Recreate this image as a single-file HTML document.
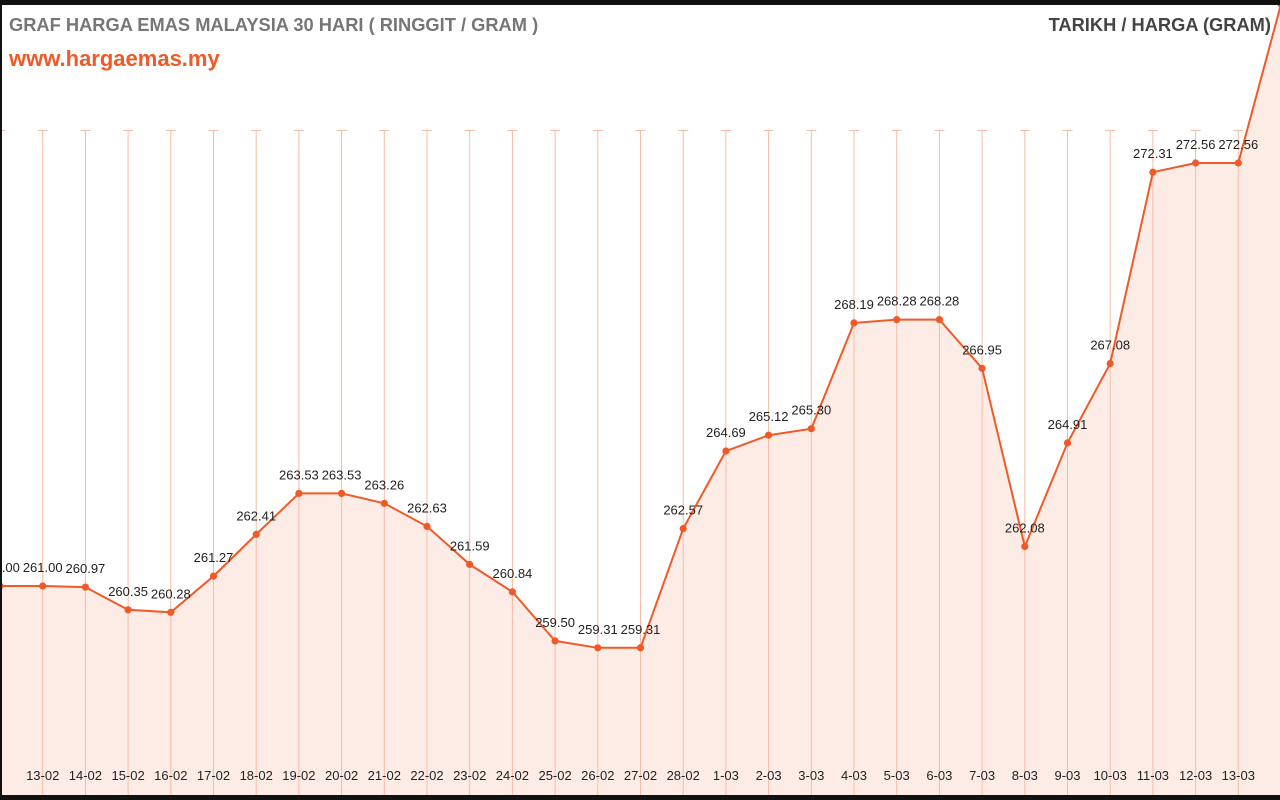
<!DOCTYPE html>
<html><head><meta charset="utf-8"><style>
html,body{margin:0;padding:0;background:#fff;width:1280px;height:800px;overflow:hidden}
svg{display:block;font-family:"Liberation Sans",Arial,sans-serif}
</style></head><body>
<svg id="c" width="1280" height="800" viewBox="0 0 1280 800" xmlns="http://www.w3.org/2000/svg">
<rect x="0" y="0" width="1280" height="800" fill="#fff"/>
<text x="9" y="31" font-size="18.3" font-weight="bold" fill="#767676">GRAF HARGA EMAS MALAYSIA 30 HARI ( RINGGIT / GRAM )</text>
<text x="9" y="66" font-size="22" font-weight="bold" fill="#f05a28">www.hargaemas.my</text>
<text x="1271" y="31" font-size="18.3" font-weight="bold" fill="#444" text-anchor="end">TARIKH / HARGA (GRAM)</text>
<g id="g"></g>
<rect x="0" y="0" width="1280" height="5" fill="#111"/>
<rect x="0" y="0" width="2" height="800" fill="#111"/>
<rect x="0" y="795" width="1280" height="5" fill="#111"/>
</svg>
<script>
var v=[261.00,261.00,260.97,260.35,260.28,261.27,262.41,263.53,263.53,263.26,262.63,261.59,260.84,259.50,259.31,259.31,262.57,264.69,265.12,265.30,268.19,268.28,268.28,266.95,262.08,264.91,267.08,272.31,272.56,272.56,276.9];
var d=["12-02","13-02","14-02","15-02","16-02","17-02","18-02","19-02","20-02","21-02","22-02","23-02","24-02","25-02","26-02","27-02","28-02","1-03","2-03","3-03","4-03","5-03","6-03","7-03","8-03","9-03","10-03","11-03","12-03","13-03",""];
var s="",step=42.7;
function X(i){return i*step}
function Y(val){return 586-(val-261)*36.59}
var pts=v.map(function(val,i){return X(i).toFixed(1)+","+Y(val).toFixed(1)});
s+='<polygon points="'+pts.join(" ")+' 1281,795 0,795" fill="#fdece6"/>';
for(var i=1;i<30;i++){var x=X(i).toFixed(1);
s+='<line x1="'+x+'" y1="130" x2="'+x+'" y2="795" stroke="#f5bca8" stroke-width="1"/>';
s+='<line x1="'+(X(i)-5).toFixed(1)+'" y1="130.5" x2="'+(X(i)+5).toFixed(1)+'" y2="130.5" stroke="#f5bca8"/>';
s+='<text x="'+x+'" y="780" font-size="13" fill="#222" text-anchor="middle">'+d[i]+'</text>';}
s+='<line x1="0" y1="130.5" x2="5" y2="130.5" stroke="#f5bca8"/>';
s+='<polyline points="'+pts.join(" ")+'" fill="none" stroke="#f05a28" stroke-width="2"/>';
for(var i=0;i<31;i++){var x=X(i),y=Y(v[i]);
s+='<circle cx="'+x.toFixed(1)+'" cy="'+y.toFixed(1)+'" r="3.6" fill="#f05a28"/>';
if(i<30)s+='<text x="'+x.toFixed(1)+'" y="'+(y-14).toFixed(1)+'" font-size="13" fill="#222" text-anchor="middle">'+v[i].toFixed(2)+'</text>';}
document.getElementById("g").innerHTML=s;
</script>
</body></html>
